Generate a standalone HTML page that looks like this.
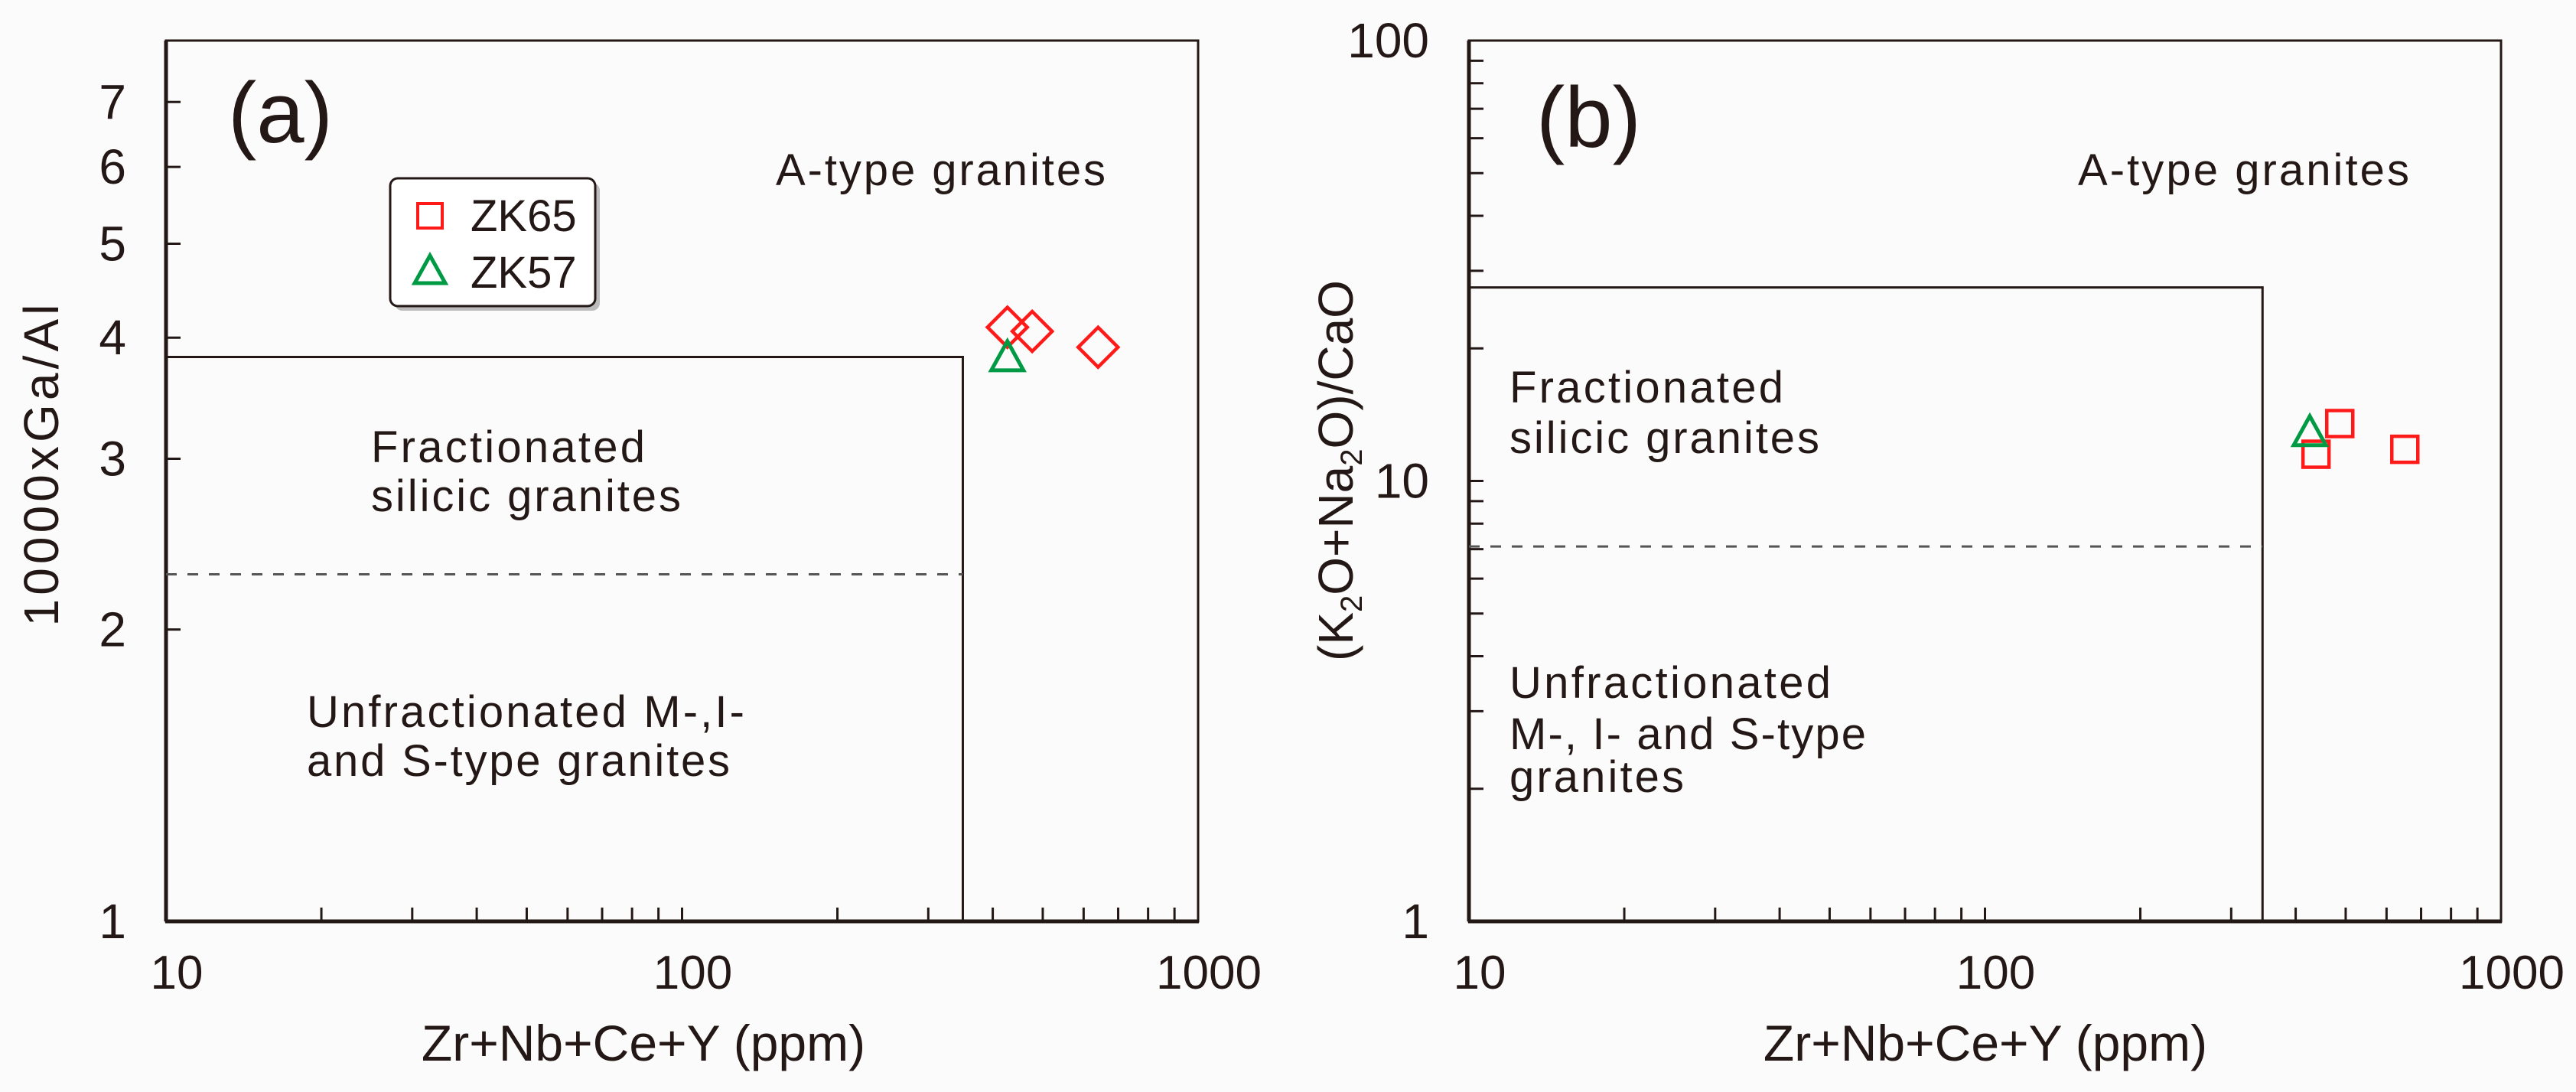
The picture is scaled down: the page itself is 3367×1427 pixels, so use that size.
<!DOCTYPE html>
<html><head><meta charset="utf-8"><style>
html,body{margin:0;padding:0;background:#fbfbfb;}
svg{display:block;}
text{font-family:"Liberation Sans",Arial,sans-serif;fill:#231815;}
</style></head><body>
<svg id="fig" width="3367" height="1427" viewBox="0 0 3367 1427" xmlns="http://www.w3.org/2000/svg">
<rect x="0" y="0" width="3367" height="1427" fill="#fbfbfb"/>
<g id="pa"></g>
<g id="pb"></g>
</svg>
<script>
// Panel (a) data
const aZK65X = [427, 477, 640];
const aZK65Y = [4.10, 4.06, 3.91];
const aZK57X = [427];
const aZK57Y = [3.79];
const aYTicks = [1, 2, 3, 4, 5, 6, 7];
const aBoundX = 350;
const aBoundSolidY = 3.82;
const aBoundDashY = 2.28;
// Panel (b) data
const bZK65X = [438, 487, 651];
const bZK65Y = [11.5, 13.5, 11.8];
const bZK57X = [426];
const bZK57Y = [12.7];
const bYTicks = [1, 10, 100];
const bBoundX = 345;
const bBoundSolidY = 27.5;
const bBoundDashY = 7.1;
const xTickLabels = [10, 100, 1000];

const NS = 'http://www.w3.org/2000/svg';
function mk(parent, tag, attrs, txt) {
  const e = document.createElementNS(NS, tag);
  for (const k in attrs) e.setAttribute(k, attrs[k]);
  if (txt !== undefined) e.textContent = txt;
  parent.appendChild(e);
  return e;
}
const INK = '#231815';

function buildPanel(g, P) {
  const sx = v => P.left + (Math.log10(v) - 1) / 2 * (P.right - P.left);
  const lr = Math.log10(P.ymax) - Math.log10(P.ymin);
  const sy = v => P.bottom - (Math.log10(v) - Math.log10(P.ymin)) / lr * (P.bottom - P.top);
  let e = mk(g, 'rect', {x: P.left, y: P.top, width: P.right - P.left, height: P.bottom - P.top, fill: 'none', stroke: INK, 'stroke-width': 3});
   
  e = mk(g, 'line', {x1: P.left - 1, y1: P.bottom, x2: P.right + 1, y2: P.bottom, stroke: INK, 'stroke-width': 5});
   
  e = mk(g, 'line', {x1: P.left, y1: P.top, x2: P.left, y2: P.bottom, stroke: INK, 'stroke-width': 5});
   
  for (let d = 10; d < 1000; d *= 10) {
    for (let m = 1; m <= 10; m++) {
      const v = d * m;
      if (v === 10 || v === 1000) continue;
      e = mk(g, 'line', {x1: sx(v), y1: P.bottom, x2: sx(v), y2: P.bottom - 18, stroke: INK, 'stroke-width': 3});
       
    }
  }
  xTickLabels.forEach(v => {
    e = mk(g, 'text', {x: sx(v) + P.xlabOff, y: 1292, 'font-size': 62, 'text-anchor': 'middle'}, String(v));
     
  });
  P.yMinor.forEach(v => {
    e = mk(g, 'line', {x1: P.left, y1: sy(v), x2: P.left + 19, y2: sy(v), stroke: INK, 'stroke-width': 3});
     
  });
  P.yTicks.forEach(v => {
    e = mk(g, 'text', {x: P.left - 52, y: sy(v) + 22, 'font-size': 64, 'text-anchor': 'end'}, String(v));
     
  });
  e = mk(g, 'polyline', {points: `${P.left},${sy(P.solidY)} ${sx(P.boundX)},${sy(P.solidY)} ${sx(P.boundX)},${P.bottom}`, fill: 'none', stroke: INK, 'stroke-width': 3});
   
  e = mk(g, 'line', {x1: P.left, y1: sy(P.dashY), x2: sx(P.boundX), y2: sy(P.dashY), stroke: '#555', 'stroke-width': 3, 'stroke-dasharray': '14 14'});
   
  e = mk(g, 'text', {x: P.xTitleX, y: 1386, 'font-size': 66, 'text-anchor': 'middle'}, 'Zr+Nb+Ce+Y (ppm)');
   
  P.sqX.forEach((v, i) => {
    const cx = sx(v), cy = sy(P.sqY[i]);
    if (P.marker === 'diamond') {
      e = mk(g, 'polygon', {points: `${cx},${cy - 26} ${cx + 26},${cy} ${cx},${cy + 26} ${cx - 26},${cy}`, fill: 'none', stroke: '#ff1a1a', 'stroke-width': 4.5});
    } else {
      e = mk(g, 'rect', {x: cx - 17, y: cy - 17, width: 34, height: 34, fill: 'none', stroke: '#ff1a1a', 'stroke-width': 4.5});
    }
     
  });
  P.trX.forEach((v, i) => {
    const cx = sx(v), cy = sy(P.trY[i]);
    e = mk(g, 'polygon', {points: `${cx},${cy - 25} ${cx + 21},${cy + 13} ${cx - 21},${cy + 13}`, fill: 'none', stroke: '#009a44', 'stroke-width': 5});
     
  });
}

const pa = document.getElementById('pa');
buildPanel(pa, {left: 217, right: 1566, top: 53, bottom: 1204, ymin: 1, ymax: 8.1,
  yTicks: aYTicks, yMinor: [2, 3, 4, 5, 6, 7], boundX: aBoundX, solidY: aBoundSolidY, dashY: aBoundDashY,
  sqX: aZK65X, sqY: aZK65Y, trX: aZK57X, trY: aZK57Y, marker: 'diamond', xlabOff: 14, xTitleX: 841});
const pb = document.getElementById('pb');
buildPanel(pb, {left: 1920, right: 3269, top: 53, bottom: 1204, ymin: 1, ymax: 100,
  yTicks: bYTicks, yMinor: [2,3,4,5,6,7,8,9,10,20,30,40,50,60,70,80,90], boundX: bBoundX, solidY: bBoundSolidY, dashY: bBoundDashY,
  sqX: bZK65X, sqY: bZK65Y, trX: bZK57X, trY: bZK57Y, marker: 'square', xlabOff: 14, xTitleX: 2595});
</script>
<svg style="position:absolute;left:0;top:0" width="3367" height="1427" viewBox="0 0 3367 1427" xmlns="http://www.w3.org/2000/svg">
<text x="298" y="186" font-size="112">(a)</text>
<text x="1014" y="242" font-size="58" textLength="431">A-type granites</text>
<text x="485" y="604" font-size="58" textLength="358">Fractionated</text>
<text x="485" y="668" font-size="58" textLength="405">silicic granites</text>
<text x="401" y="950" font-size="58" textLength="572">Unfractionated M-,I-</text>
<text x="401" y="1014" font-size="58" textLength="553">and S-type granites</text>
<text transform="translate(76,608) rotate(-90)" font-size="64" text-anchor="middle" textLength="421">10000xGa/Al</text>
<g>
<rect x="516" y="239" width="268" height="167" rx="10" fill="#bbb"/>
<rect x="510" y="233" width="268" height="167" rx="10" fill="#fff" stroke="#231815" stroke-width="3"/>
<rect x="546" y="266" width="32" height="32" fill="none" stroke="#ff1a1a" stroke-width="4"/>
<text x="615" y="302" font-size="58">ZK65</text>
<polygon points="562,334 582,370 542,370" fill="none" stroke="#009a44" stroke-width="5"/>
<text x="615" y="376" font-size="58">ZK57</text>
</g>
<text x="2008" y="192" font-size="112">(b)</text>
<text x="2716" y="242" font-size="58" textLength="433">A-type granites</text>
<text x="1973" y="526" font-size="58" textLength="358">Fractionated</text>
<text x="1973" y="592" font-size="58" textLength="405">silicic granites</text>
<text x="1973" y="912" font-size="58" textLength="420">Unfractionated</text>
<text x="1973" y="979" font-size="58" textLength="466">M-, I- and S-type</text>
<text x="1973" y="1035" font-size="58" textLength="228">granites</text>
<text transform="translate(1768,615) rotate(-90)" font-size="64" text-anchor="middle">(K<tspan font-size="40" dy="12">2</tspan><tspan dy="-12">O+Na</tspan><tspan font-size="40" dy="12">2</tspan><tspan dy="-12">O)/CaO</tspan></text>
</svg>
</body></html>
